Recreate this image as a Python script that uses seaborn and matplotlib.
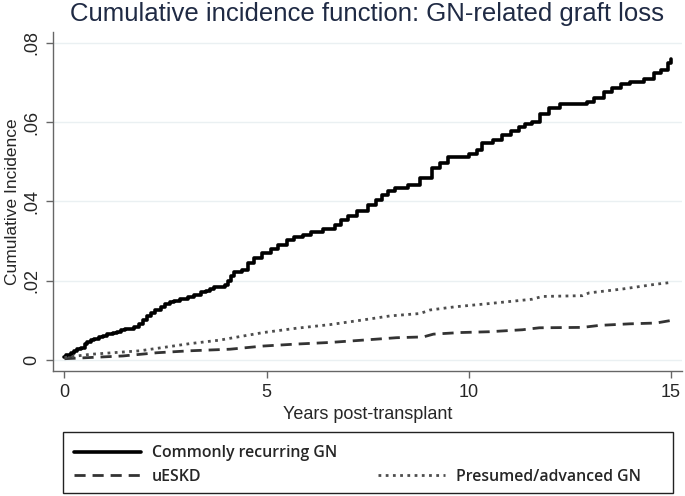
import numpy as np
import pandas as pd
import matplotlib
matplotlib.use('Agg')
import matplotlib.pyplot as plt
import seaborn as sns
from matplotlib.lines import Line2D
from matplotlib.patches import Rectangle

# ==============================
# DATA
# ==============================
gn_years = [0, 0.05, 0.15, 0.23, 0.32, 0.4, 0.5, 0.56, 0.65, 0.73, 0.85, 0.95,
            1.06, 1.2, 1.3, 1.39, 1.5, 1.6, 1.72, 1.84, 1.95, 2.05, 2.15, 2.25,
            2.38, 2.5, 2.6, 2.71, 2.85, 3.05, 3.2, 3.38, 3.5, 3.6, 3.71, 3.96,
            4.05, 4.12, 4.2, 4.4, 4.53, 4.7, 4.9, 5.1, 5.28, 5.5, 5.69, 5.9,
            6.11, 6.4, 6.69, 6.85, 7.02, 7.25, 7.52, 7.7, 7.85, 8.0, 8.18, 8.5,
            8.8, 9.09, 9.3, 9.5, 10.0, 10.2, 10.33, 10.6, 10.83, 11.05, 11.24,
            11.4, 11.57, 11.76, 12.0, 12.26, 12.92, 13.1, 13.34, 13.55, 13.76,
            14.0, 14.34, 14.59, 14.75, 14.93, 15.02]
gn_cif = [0.0007, 0.0012, 0.0018, 0.0022, 0.0028, 0.0031, 0.0040, 0.0044, 0.0049,
          0.0052, 0.0057, 0.0061, 0.0065, 0.0068, 0.0071, 0.0075, 0.0077, 0.0079,
          0.0083, 0.0090, 0.0100, 0.0111, 0.0118, 0.0125, 0.0134, 0.0140, 0.0146,
          0.0149, 0.0153, 0.0158, 0.0163, 0.0170, 0.0175, 0.0180, 0.0185, 0.0190,
          0.0200, 0.0212, 0.0222, 0.0228, 0.0244, 0.0258, 0.0269, 0.0280, 0.0291,
          0.0302, 0.0311, 0.0316, 0.0322, 0.0330, 0.0341, 0.0352, 0.0362, 0.0376,
          0.0390, 0.0403, 0.0415, 0.0425, 0.0434, 0.0440, 0.0460, 0.0483, 0.0497,
          0.0512, 0.0520, 0.0530, 0.0546, 0.0555, 0.0567, 0.0578, 0.0588, 0.0595,
          0.0600, 0.0621, 0.0635, 0.0646, 0.0650, 0.0660, 0.0675, 0.0685, 0.0697,
          0.0700, 0.0708, 0.0724, 0.0730, 0.0748, 0.0758]

eskd_years = [0, 0.63, 1.45, 2.28, 3.1, 4.1, 4.92, 5.75, 6.57, 7.4, 8.22, 8.88,
              9.13, 9.79, 10.5, 11.33, 11.75, 12.82, 13.23, 13.99, 14.64, 14.98]
eskd_cif = [0.0003, 0.0006, 0.0010, 0.0018, 0.0023, 0.0027, 0.0035, 0.0040,
            0.0044, 0.0050, 0.0056, 0.0058, 0.0065, 0.0069, 0.0071, 0.0076,
            0.0081, 0.0082, 0.0087, 0.0091, 0.0093, 0.0099]

pres_years = [0, 0.63, 1.87, 3.1, 3.85, 4.18, 4.92, 5.75, 6.57, 7.4, 8.06, 8.8,
              9.05, 9.67, 10.5, 11.57, 11.82, 12.82, 12.98, 13.82, 14.64, 14.98]
pres_cif = [0.0006, 0.0014, 0.0023, 0.0041, 0.0050, 0.0056, 0.0069, 0.0080,
            0.0089, 0.0101, 0.0111, 0.0117, 0.0126, 0.0134, 0.0142, 0.0153,
            0.0160, 0.0162, 0.0169, 0.0179, 0.0191, 0.0195]

group_names = ['Commonly recurring GN', 'uESKD', 'Presumed/advanced GN']

y_ticks = [0, 0.02, 0.04, 0.06, 0.08]
y_ticklabels = ['0', '.02', '.04', '.06', '.08']
x_ticks = [0, 5, 10, 15]

# ==============================
# STYLE
# ==============================
sns.set_theme(style='white')
plt.rcParams['font.family'] = ['Liberation Sans', 'DejaVu Sans']

fig = plt.figure(figsize=(6.85, 4.96), dpi=100)
ax = fig.add_axes([0.077, 0.252, 0.9186, 0.6835])

# ==============================
# CURVES
# ==============================
sns.lineplot(x=gn_years, y=gn_cif, ax=ax, color='black', linewidth=2.6,
             drawstyle='steps-post', estimator=None, label=group_names[0])
sns.lineplot(x=eskd_years, y=eskd_cif, ax=ax, color='#333333', linewidth=2.0,
             estimator=None, label=group_names[1], dashes=False)
sns.lineplot(x=pres_years, y=pres_cif, ax=ax, color='#4d4d4d', linewidth=2.0,
             estimator=None, label=group_names[2], dashes=False)
lines = ax.get_lines()
lines[1].set_dashes([4, 2.5])
lines[2].set_dashes([1, 1.6])

# ==============================
# AXES
# ==============================
ax.set_xlim(-0.29, 15.28)
ax.set_ylim(-0.0028, 0.0827)
ax.set_yticks(y_ticks)
ax.set_yticklabels(y_ticklabels, rotation=90, va='center')
ax.set_xticks(x_ticks)
ax.tick_params(axis='both', labelsize=13, length=5, width=1, color='#666666',
               direction='out', left=True, bottom=True, pad=4)
for y in y_ticks:
    ax.axhline(y, color='#eaf0f2', linewidth=1, zorder=0)
for side in ['top', 'right']:
    ax.spines[side].set_visible(False)
for side in ['left', 'bottom']:
    ax.spines[side].set_color('#666666')
    ax.spines[side].set_linewidth(1)

ax.set_xlabel('Years post-transplant', fontsize=13, labelpad=4)
ax.set_ylabel('Cumulative Incidence', fontsize=12.5)
ax.yaxis.set_label_coords(-0.052, 0.5)
ax.set_title('Cumulative incidence function: GN-related graft loss',
             fontsize=18.5, color='#1f2a44', pad=8)

# ==============================
# LEGEND (Stata style, two columns)
# ==============================
h, l = ax.get_legend_handles_labels()
ax.get_legend().remove()
blank = Line2D([], [], color='none')

W, H = 685, 496
fig.patches.append(Rectangle((62.7 / W, 1 - 492.7 / H), 610 / W, 61 / H,
                             transform=fig.transFigure, fill=False,
                             edgecolor='#222222', linewidth=1))
leg = fig.legend(handles=[h[0], h[1], blank, h[2]],
                 labels=[l[0], l[1], '', l[2]],
                 ncol=2, mode='expand',
                 bbox_to_anchor=(71 / W, 1 - 493 / H, 573 / W, 56 / H),
                 loc='center left', frameon=False,
                 handlelength=4.2, handletextpad=0.7, labelspacing=0.45,
                 borderaxespad=0, borderpad=0.2,
                 prop={'family': ['Open Sans', 'DejaVu Sans'],
                       'weight': 'semibold', 'size': 11.4})

plt.savefig('out.png', dpi=100)
